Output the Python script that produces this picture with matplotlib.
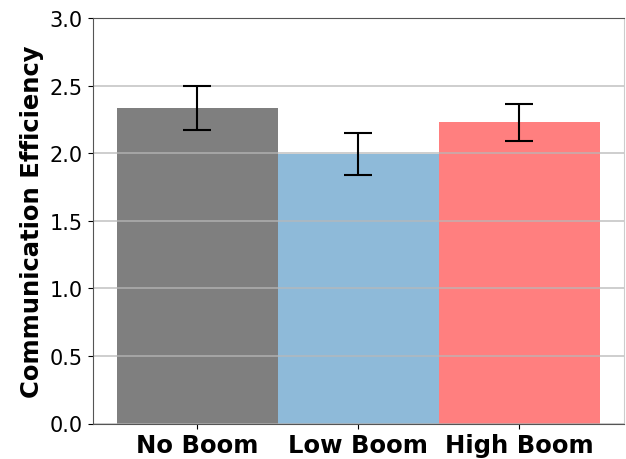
import numpy as np
import matplotlib
matplotlib.use("Agg")
import matplotlib.pyplot as plt

conditions = ["No Boom", "Low Boom", "High Boom"]
efficiency = [2.335, 1.995, 2.228]
efficiency_err = [0.162, 0.157, 0.138]
bar_colors = ["black", "tab:blue", "red"]

fig = plt.figure(figsize=(6.26, 4.6), dpi=100)
ax = fig.add_axes([92.5 / 626, (460 - 424.5) / 460, 531.5 / 626, 405.5 / 460])

x = np.arange(len(conditions))
ax.bar(x, efficiency, width=1.0, color=bar_colors, alpha=0.5,
       yerr=efficiency_err, capsize=10,
       error_kw=dict(elinewidth=1.5, capthick=1.5, ecolor="black"))

ax.set_ylim(0, 3.0)
ax.set_yticks(np.arange(0, 3.01, 0.5))
ax.set_xticks(x)
ax.set_xticklabels(conditions, fontsize=17.5, fontweight="bold")
ax.tick_params(axis="y", labelsize=15)
ax.set_ylabel("Communication Efficiency", fontsize=17.5, fontweight="bold")
# grid sits above the bars but below the error bars
ax.set_axisbelow("line")
ax.yaxis.grid(True, color="#b8b8b8", linewidth=1.2, alpha=0.8)

for side in ["top", "left", "bottom"]:
    ax.spines[side].set_color("#555555")
ax.spines["right"].set_color("#cccccc")

fig.savefig("out.png", dpi=100)
